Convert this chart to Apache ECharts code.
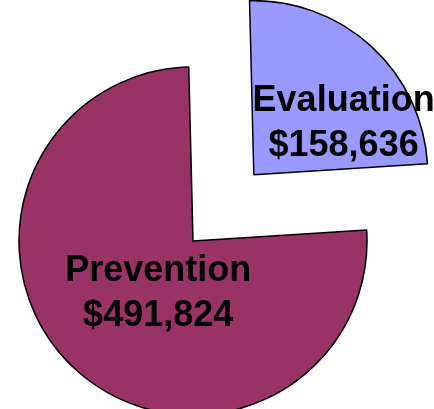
<!DOCTYPE html>
<html>
<head>
<meta charset="utf-8">
<script src="https://cdn.jsdelivr.net/npm/echarts@6/dist/echarts.min.js"></script>
<style>
  html, body { margin: 0; padding: 0; background: #fff; }
  #chart { width: 434px; height: 409px; }
</style>
</head>
<body>
<div id="chart"></div>
<script>
// 数据
var categories = ['Evaluation', 'Prevention'];
var amounts = [158636, 491824];
var colors = ['#9999FF', '#993366'];
// label nudges relative to ECharts' default inside position
var nudges = [[29, 15], [26, -14]];

var chart = echarts.init(document.getElementById('chart'));

function money(v) {
    return '$' + v.toString().replace(/\B(?=(\d{3})+(?!\d))/g, ',');
}

var pieData = [];
for (var i = 0; i < categories.length; i++) {
    pieData.push({
        name: categories[i],
        value: amounts[i],
        selected: i === 0,
        itemStyle: { color: colors[i] }
    });
}

var option = {
    animation: false,
    series: [{
        type: 'pie',
        center: [193, 241],
        radius: 174,
        startAngle: 91.4,
        clockwise: true,
        selectedMode: 'single',
        selectedOffset: 90,
        itemStyle: {
            borderColor: '#000',
            borderWidth: 1.5
        },
        label: {
            show: true,
            position: 'inside',
            color: '#000',
            fontFamily: 'Liberation Sans',
            fontWeight: 'bold',
            fontSize: 36,
            lineHeight: 45,
            formatter: function (p) {
                return p.name + '\n' + money(p.value);
            }
        },
        labelLine: { show: false },
        labelLayout: function (params) {
            var n = nudges[params.dataIndex];
            return { dx: n[0], dy: n[1] };
        },
        emphasis: { disabled: true },
        data: pieData
    }]
};

chart.setOption(option);
</script>
</body>
</html>
